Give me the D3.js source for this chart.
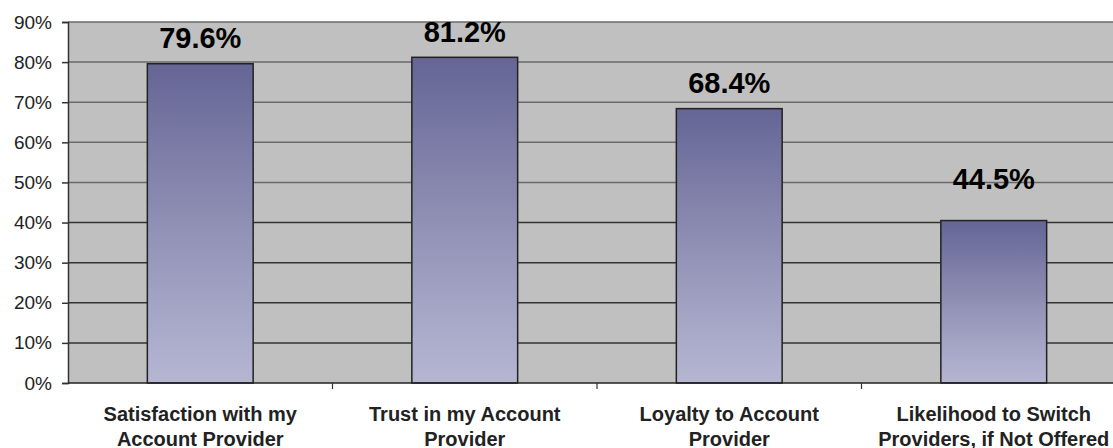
<!DOCTYPE html>
<html>
<head>
  <meta charset="utf-8">
  <style>
    html, body { margin: 0; overflow: hidden; background: #fff; }
    svg { display: block; }
    text { font-family: "Liberation Sans", Arial, sans-serif; fill: #000; }
    .ytick text { font-size: 19px; fill: #222; }
    .val { font-size: 29px; font-weight: bold; }
    .cat { font-size: 20px; font-weight: bold; fill: #222; }
  </style>
  <script src="https://d3js.org/d3.v7.min.js"></script>
</head>
<body>
  <svg id="chart" width="1113" height="448"></svg>
  <script>
    // values
    var categories = [
      ["Satisfaction with my", "Account Provider"],
      ["Trust in my Account", "Provider"],
      ["Loyalty to Account", "Provider"],
      ["Likelihood to Switch", "Providers, if Not Offered"]
    ];
    var barValues = [79.6, 81.2, 68.4, 40.5];   // height of the drawn bars
    var labelValues = [79.6, 81.2, 68.4, 44.5]; // printed labels
    var yTicks = [0, 10, 20, 30, 40, 50, 60, 70, 80, 90];

    var margin = {top: 22, right: 0, bottom: 65, left: 68};
    var width = 1058;
    var height = 448 - margin.top - margin.bottom;

    var svg = d3.select("#chart");

    var defs = svg.append("defs");
    var grad = defs.append("linearGradient")
      .attr("id", "barGrad")
      .attr("x1", 0).attr("y1", 0).attr("x2", 0).attr("y2", 1);
    grad.append("stop").attr("offset", "0%").attr("stop-color", "#656596");
    grad.append("stop").attr("offset", "55%").attr("stop-color", "#9494b8");
    grad.append("stop").attr("offset", "100%").attr("stop-color", "#b6b6d3");

    defs.append("clipPath").attr("id", "plotClip")
      .append("rect")
      .attr("x", 0).attr("y", 1)
      .attr("width", width).attr("height", height);

    var x = d3.scaleBand().domain(d3.range(categories.length)).range([0, width]).padding(0);
    var y = d3.scaleLinear().domain([0, 90]).range([height, 0]);

    var g = svg.append("g")
      .attr("transform", "translate(" + margin.left + "," + margin.top + ")");

    // plot background
    g.append("rect")
      .attr("x", 0).attr("y", 0)
      .attr("width", width).attr("height", height)
      .attr("fill", "#c0c0c0");

    // gridlines
    g.append("g").selectAll("line").data(yTicks.filter(function(d){ return d > 0; }))
      .enter().append("line")
      .attr("x1", 0).attr("x2", width)
      .attr("y1", function(d){ return y(d); })
      .attr("y2", function(d){ return y(d); })
      .attr("stroke", function(d){ return d >= 50 ? "#6a6a6a" : "#333"; })
      .attr("stroke-width", 1.5);

    // y axis
    var yAxis = d3.axisLeft(y).tickValues(yTicks)
      .tickFormat(function(d){ return d + "%"; })
      .tickSize(6).tickPadding(10);
    var yObj = g.append("g").attr("class", "ytick").call(yAxis);
    yObj.select(".domain").attr("stroke", "#333").attr("stroke-width", 1.5);
    yObj.selectAll(".tick line").attr("stroke", "#333").attr("stroke-width", 1.5);

    // bars
    g.append("g").selectAll("rect").data(barValues)
      .enter().append("rect")
      .attr("x", function(d, i){ return x(i) + x.bandwidth() * 0.3; })
      .attr("width", x.bandwidth() * 0.4)
      .attr("y", function(d){ return y(d); })
      .attr("height", function(d){ return height - y(d); })
      .attr("fill", "url(#barGrad)")
      .attr("stroke", "#222")
      .attr("stroke-width", 1.5);

    // x axis
    var xAxis = g.append("g").attr("transform", "translate(0," + height + ")");
    xAxis.append("line")
      .attr("x1", 0).attr("x2", width)
      .attr("stroke", "#222").attr("stroke-width", 1.5);
    xAxis.selectAll(".xt").data(d3.range(1, categories.length))
      .enter().append("line")
      .attr("class", "xt")
      .attr("x1", function(d){ return x(d); })
      .attr("x2", function(d){ return x(d); })
      .attr("y1", 0).attr("y2", 6)
      .attr("stroke", "#333").attr("stroke-width", 1.2);

    // category labels
    var cats = g.append("g").selectAll("text").data(categories)
      .enter().append("text")
      .attr("class", "cat")
      .attr("text-anchor", "middle")
      .attr("transform", function(d, i){
        return "translate(" + (x(i) + x.bandwidth() / 2) + "," + (height + 38) + ")";
      });
    cats.append("tspan").attr("x", 0).attr("y", 0).text(function(d){ return d[0]; });
    cats.append("tspan").attr("x", 0).attr("y", 25).text(function(d){ return d[1]; });

    // value labels with gray background (background kept inside the plot)
    var labels = g.append("g")
      .selectAll("g").data(labelValues)
      .enter().append("g")
      .attr("transform", function(d, i){
        return "translate(" + (x(i) + x.bandwidth() / 2) + "," + (y(d) - 15.5) + ")";
      });
    labels.append("rect")
      .attr("x", -58).attr("y", -24)
      .attr("width", 116).attr("height", 30)
      .attr("fill", "#c0c0c0")
      .attr("clip-path", "url(#plotClip)");
    labels.append("text")
      .attr("class", "val")
      .attr("text-anchor", "middle")
      .text(function(d){ return d.toFixed(1) + "%"; });
  </script>
</body>
</html>
